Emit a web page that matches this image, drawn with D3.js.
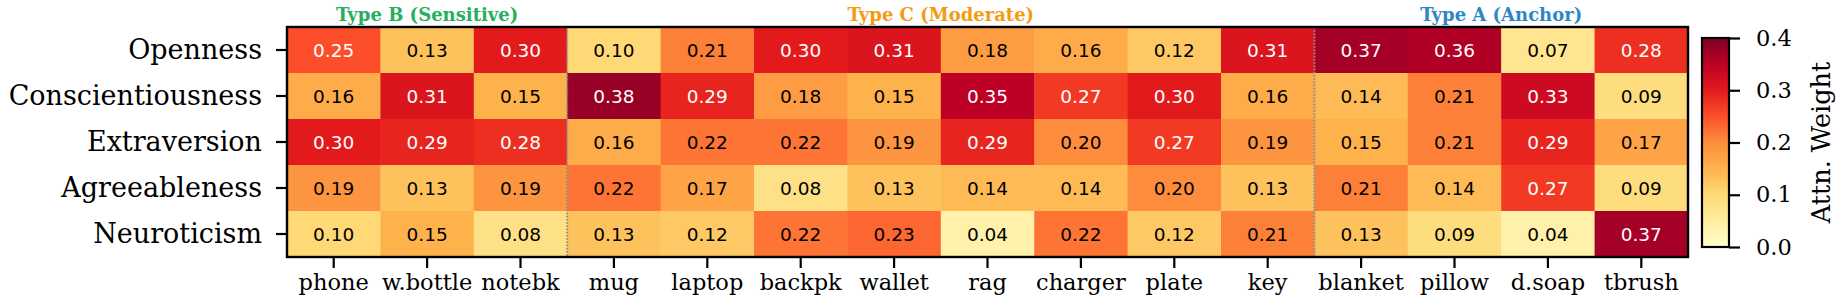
<!DOCTYPE html>
<html>
<head>
<meta charset="utf-8">
<script src="https://cdn.jsdelivr.net/npm/d3@7"></script>
<style>
  html, body { margin: 0; padding: 0; background: #fff; }
  svg { display: block; }
  text { font-family: "DejaVu Serif", serif; }
</style>
</head>
<body>
<svg id="chart" width="1843" height="299"></svg>
<script>
// ---- data ----
const traits = ["Openness", "Conscientiousness", "Extraversion", "Agreeableness", "Neuroticism"];
const objects = ["phone", "w.bottle", "notebk", "mug", "laptop", "backpk", "wallet", "rag", "charger", "plate", "key", "blanket", "pillow", "d.soap", "tbrush"];
const openness          = [0.25, 0.13, 0.30, 0.10, 0.21, 0.30, 0.31, 0.18, 0.16, 0.12, 0.31, 0.37, 0.36, 0.07, 0.28];
const conscientiousness = [0.16, 0.31, 0.15, 0.38, 0.29, 0.18, 0.15, 0.35, 0.27, 0.30, 0.16, 0.14, 0.21, 0.33, 0.09];
const extraversion      = [0.30, 0.29, 0.28, 0.16, 0.22, 0.22, 0.19, 0.29, 0.20, 0.27, 0.19, 0.15, 0.21, 0.29, 0.17];
const agreeableness     = [0.19, 0.13, 0.19, 0.22, 0.17, 0.08, 0.13, 0.14, 0.14, 0.20, 0.13, 0.21, 0.14, 0.27, 0.09];
const neuroticism       = [0.10, 0.15, 0.08, 0.13, 0.12, 0.22, 0.23, 0.04, 0.22, 0.12, 0.21, 0.13, 0.09, 0.04, 0.37];
const groupLabels = ["Type B (Sensitive)", "Type C (Moderate)", "Type A (Anchor)"];
const groupFirst  = ["phone", "mug", "blanket"];
const groupLast   = ["notebk", "key", "tbrush"];
const colorbarTicks = [0.0, 0.1, 0.2, 0.3, 0.4];
const colorbarLabel = "Attn. Weight";

const matrix = [openness, conscientiousness, extraversion, agreeableness, neuroticism];
const cells = [];
traits.forEach((t, i) => objects.forEach((o, j) => cells.push({ trait: t, obj: o, v: matrix[i][j] })));

// ---- styles / layout ----
const groupColors = ["#27ae60", "#f39c12", "#2f86c4"];
const vmin = 0, vmax = 0.4;
const ylorrd = ["#ffffcc", "#ffeda0", "#fed976", "#feb24c", "#fd8d3c", "#fc4e2a", "#e31a1c", "#bd0026", "#800026"];
const color = d3.scaleLinear()
  .domain(ylorrd.map((_, i) => vmin + (vmax - vmin) * i / (ylorrd.length - 1)))
  .range(ylorrd)
  .interpolate(d3.interpolateRgb)
  .clamp(true);

const svg = d3.select("#chart");
const L = 287, R = 1688, T = 27, B = 257;
const x = d3.scaleBand().domain(objects).range([L, R]);
const y = d3.scaleBand().domain(traits).range([T, B]);

// cells
svg.append("g").selectAll("rect").data(cells).join("rect")
  .attr("x", d => x(d.obj)).attr("y", d => y(d.trait))
  .attr("width", x.bandwidth() + 0.5).attr("height", y.bandwidth() + 0.5)
  .attr("fill", d => color(d.v));

// annotations
svg.append("g").selectAll("text").data(cells).join("text")
  .attr("x", d => x(d.obj) + x.bandwidth() / 2)
  .attr("y", d => y(d.trait) + y.bandwidth() / 2)
  .attr("text-anchor", "middle").attr("dominant-baseline", "central")
  .style("font-size", "18.5px").style("font-family", "'DejaVu Sans', sans-serif")
  .attr("fill", d => d.v > 0.24 ? "#ffffff" : "#000000")
  .text(d => d.v.toFixed(2));

// group separators (dotted)
groupFirst.slice(1).forEach(o => {
  svg.append("line")
    .attr("x1", x(o)).attr("x2", x(o)).attr("y1", T).attr("y2", B)
    .attr("stroke", "#8c8c8c").attr("stroke-width", 2)
    .attr("stroke-dasharray", "1.6,1.6");
});

// group headers
groupLabels.forEach((g, i) => {
  const cx = (x(groupFirst[i]) + x(groupLast[i]) + x.bandwidth()) / 2;
  svg.append("text").attr("x", cx).attr("y", 21)
    .attr("text-anchor", "middle")
    .style("font-size", "18px").style("font-weight", "bold")
    .attr("fill", groupColors[i]).text(g);
});

// frame
svg.append("rect").attr("x", L).attr("y", T).attr("width", R - L).attr("height", B - T)
  .attr("fill", "none").attr("stroke", "#000").attr("stroke-width", 2.4);

// axes
const yAxis = svg.append("g").attr("transform", `translate(${L},0)`)
  .call(d3.axisLeft(y).tickSize(11).tickPadding(14));
yAxis.select(".domain").remove();
yAxis.selectAll(".tick line").attr("stroke-width", 2.2);
yAxis.selectAll(".tick text").style("font-size", "27px").style("font-family", "DejaVu Serif").attr("fill", "#000");

const xAxis = svg.append("g").attr("transform", `translate(0,${B})`)
  .call(d3.axisBottom(x).tickSize(11).tickPadding(6));
xAxis.select(".domain").remove();
xAxis.selectAll(".tick line").attr("stroke-width", 2.2);
xAxis.selectAll(".tick text").style("font-size", "22.5px").style("font-family", "DejaVu Serif").attr("fill", "#000");

// colorbar
const cbL = 1702, cbR = 1729, cbT = 38, cbB = 247;
const cy = d3.scaleLinear().domain([vmin, vmax]).range([cbB, cbT]);
const defs = svg.append("defs");
const grad = defs.append("linearGradient").attr("id", "cbgrad")
  .attr("x1", 0).attr("y1", 1).attr("x2", 0).attr("y2", 0);
d3.range(0, 1.0001, 0.05).forEach(t => {
  grad.append("stop").attr("offset", t).attr("stop-color", color(vmin + t * (vmax - vmin)));
});
svg.append("rect").attr("x", cbL).attr("y", cbT).attr("width", cbR - cbL).attr("height", cbB - cbT)
  .attr("fill", "url(#cbgrad)").attr("stroke", "#000").attr("stroke-width", 2.2);
const cAxis = svg.append("g").attr("transform", `translate(${cbR},0)`)
  .call(d3.axisRight(cy).tickValues(colorbarTicks).tickFormat(d3.format(".1f")).tickSize(11).tickPadding(16));
cAxis.select(".domain").remove();
cAxis.selectAll(".tick line").attr("stroke-width", 2.2);
cAxis.selectAll(".tick text").style("font-size", "22.5px").style("font-family", "DejaVu Serif").attr("fill", "#000");

svg.append("text")
  .attr("transform", `translate(1830,${(cbT + cbB) / 2}) rotate(-90)`)
  .attr("text-anchor", "middle")
  .style("font-size", "25.5px")
  .text(colorbarLabel);
</script>
</body>
</html>
